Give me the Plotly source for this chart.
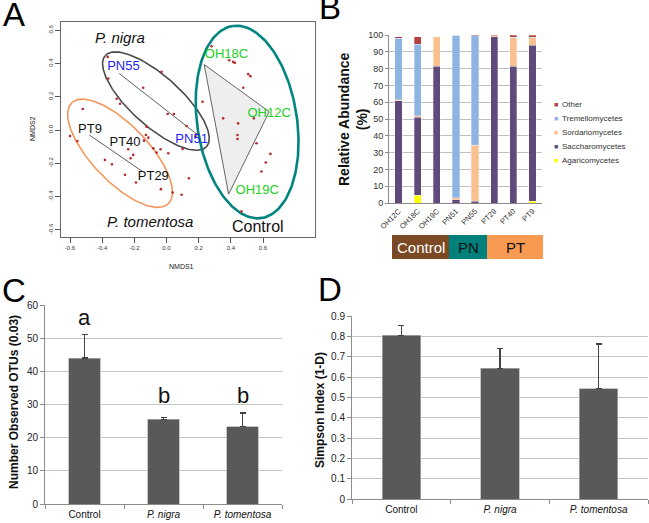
import numpy as np
import plotly.graph_objects as go

W, H = 649, 523
FONT = "Liberation Sans, Arial, sans-serif"


def px(x):
    return x / W


def py(y):
    return 1 - y / H


# ---------------- Panel A data (NMDS) ----------------
nmds_x = [-0.600, -0.554, -0.521, -0.383, -0.339, -0.366, -0.362, -0.310, -0.289, -0.258,
          -0.238, -0.223, -0.207, -0.190, -0.145, -0.140, -0.124, -0.128, -0.113, -0.082,
          -0.062, -0.037, -0.031, -0.035, 0.007, 0.011, 0.038, 0.046, 0.094, 0.100,
          0.125, 0.139, 0.187, 0.224, 0.280, 0.352, 0.390, 0.414, 0.425, 0.441,
          0.445, 0.441, 0.477, 0.508, 0.522, 0.543, 0.559, 0.590, 0.617, 0.646,
          0.466, 0.180]
nmds_y = [-0.036, -0.066, 0.126, -0.180, -0.206, 0.440, 0.310, 0.188, 0.158, -0.270,
          -0.116, -0.170, -0.150, -0.316, 0.254, -0.064, 0.020, -0.030, -0.046, -0.110,
          -0.136, -0.116, 0.350, -0.356, 0.096, -0.140, -0.376, 0.096, -0.390, -0.114,
          0.024, -0.290, -0.026, 0.170, 0.504, 0.070, 0.420, 0.410, 0.404, -0.030,
          0.040, -0.054, 0.254, 0.336, 0.324, 0.070, -0.080, -0.250, -0.196, -0.144,
          -0.490, -0.040]

site_labels = ["PN55", "PN51", "PT9", "PT40", "PT29", "OH18C", "OH12C", "OH19C"]
site_x = [-0.268, 0.156, -0.476, -0.258, -0.082, 0.373, 0.638, 0.564]
site_y = [0.380, -0.056, 0.004, -0.074, -0.284, 0.454, 0.100, -0.366]
site_colors = ["#1f1fff", "#1f1fff", "#111111", "#111111", "#111111",
               "#22d022", "#22d022", "#22d022"]

group_labels = ["<i>P. nigra</i>", "<i>P. tomentosa</i>", "Control"]
group_x = [-0.29, -0.103, 0.570]
group_y = [0.555, -0.550, -0.582]
group_sizes = [15, 15, 16]

# hull segments (sample centroids)
pn_hull_x = [-0.294, 0.187]
pn_hull_y = [0.340, -0.024]
pt_hull_x = [-0.480, -0.149]
pt_hull_y = [-0.030, -0.250]
oh_hull_x = [0.234, 0.638, 0.386, 0.234]
oh_hull_y = [0.394, 0.110, -0.386, 0.394]

# ellipses: centre, semi-axis vector 1, semi-axis vector 2 (data units)
ell_cx = [-0.066, -0.289, 0.501]
ell_cy = [0.174, -0.140, 0.048]
ell_ux = [0.315, 0.300, -0.089]
ell_uy = [-0.274, -0.304, 0.578]
ell_vx = [0.104, 0.127, 0.307]
ell_vy = [0.112, 0.117, 0.044]
ell_colors = ["#4a4a4a", "#f5955a", "#00857f"]
ell_widths = [1.6, 1.6, 2.6]

# ---------------- Panel B data (relative abundance) ----------------
samples = ["OH12C", "OH18C", "OH19C", "PN51", "PN55", "PT29", "PT40", "PT9"]
classes = ["Agaricomycetes", "Saccharomycetes", "Sordariomycetes", "Tremellomycetes", "Other"]
agarico = [0.0, 4.5, 0.0, 0.0, 0.0, 0.0, 0.0, 1.0]
saccharo = [61.0, 46.5, 81.5, 2.0, 1.0, 99.0, 81.5, 93.0]
sordario = [0.5, 1.0, 17.5, 1.0, 33.5, 0.5, 17.0, 4.5]
tremello = [36.5, 42.5, 0.0, 97.0, 65.0, 0.0, 0.3, 0.3]
other = [1.0, 4.5, 0.0, 0.0, 0.5, 0.5, 1.2, 1.2]
class_values = [agarico, saccharo, sordario, tremello, other]
class_colors = ["#ffff00", "#604a7b", "#fac090", "#8db4e2", "#b3403f"]
b_ticks = [0, 10, 20, 30, 40, 50, 60, 70, 80, 90, 100]

treat_names = ["Control", "PN", "PT"]
treat_colors = ["#7b4a24", "#00807a", "#f89a52"]
treat_text_colors = ["#ffffff", "#111111", "#111111"]

# ---------------- Panel C / D data ----------------
groups = ["Control", "P. nigra", "P. tomentosa"]
group_ticktext = ["Control", "<i>P. nigra</i>", "<i>P. tomentosa</i>"]
otus = [44.0, 25.5, 23.3]
otus_err = [7.2, 0.5, 4.1]
otus_letters = ["a", "b", "b"]
otus_letter_y = [53.2, 29.5, 29.5]
simpson = [0.805, 0.642, 0.542]
simpson_err = [0.050, 0.098, 0.220]

fig = go.Figure()

# ---- Panel A traces ----
t = np.linspace(0, 2 * np.pi, 200)
for i in range(3):
    ex = ell_cx[i] + ell_ux[i] * np.cos(t) + ell_vx[i] * np.sin(t)
    ey = ell_cy[i] + ell_uy[i] * np.cos(t) + ell_vy[i] * np.sin(t)
    fig.add_trace(go.Scatter(x=ex, y=ey, mode="lines", line=dict(color=ell_colors[i], width=ell_widths[i]),
                             xaxis="x", yaxis="y", showlegend=False, hoverinfo="skip"))

fig.add_trace(go.Scatter(x=oh_hull_x, y=oh_hull_y, mode="lines", fill="toself", fillcolor="#eeeeee",
                         line=dict(color="#555555", width=0.9), xaxis="x", yaxis="y", showlegend=False))
fig.add_trace(go.Scatter(x=pn_hull_x, y=pn_hull_y, mode="lines", line=dict(color="#333333", width=0.8),
                         xaxis="x", yaxis="y", showlegend=False))
fig.add_trace(go.Scatter(x=pt_hull_x, y=pt_hull_y, mode="lines", line=dict(color="#333333", width=0.8),
                         xaxis="x", yaxis="y", showlegend=False))
fig.add_trace(go.Scatter(x=nmds_x, y=nmds_y, mode="markers", marker=dict(color="#b52a2a", size=2.6),
                         xaxis="x", yaxis="y", showlegend=False))
fig.add_trace(go.Scatter(x=site_x, y=site_y, mode="text", text=site_labels,
                         textfont=dict(color=site_colors, size=13, family=FONT),
                         xaxis="x", yaxis="y", showlegend=False))

annotations = []
for lab, gx, gy, gs in zip(group_labels, group_x, group_y, group_sizes):
    annotations.append(dict(x=gx, y=gy, xref="x", yref="y", text=lab, showarrow=False,
                            xanchor="center", yanchor="middle",
                            font=dict(size=gs, color="#111111", family=FONT)))

# ---- Panel B traces ----
for name, vals, col in zip(classes, class_values, class_colors):
    fig.add_trace(go.Bar(x=samples, y=vals, name=name, width=0.38, marker=dict(color=col, line=dict(color="#ffffff", width=0.3)),
                         xaxis="x2", yaxis="y2", showlegend=False))

# manual legend (top item = last class)
leg_x_sq = 556
leg_x_tx = 560
leg_y0 = 104.3
for k, (name, col) in enumerate(zip(classes[::-1], class_colors[::-1])):
    yy = leg_y0 + k * 14.1
    annotations.append(dict(x=px(leg_x_sq), y=py(yy), xref="paper", yref="paper", text="■", showarrow=False,
                            xanchor="center", yanchor="middle", font=dict(size=7, color=col, family=FONT)))
    annotations.append(dict(x=px(leg_x_tx), y=py(yy), xref="paper", yref="paper", text=name, showarrow=False,
                            xanchor="left", yanchor="middle", font=dict(size=8, color="#333333", family=FONT)))

# treatment boxes under panel B
box_edges = [392, 449, 487, 543]
shapes = []
for k, (nm, col, tc) in enumerate(zip(treat_names, treat_colors, treat_text_colors)):
    shapes.append(dict(type="rect", xref="paper", yref="paper", x0=px(box_edges[k]), x1=px(box_edges[k + 1]),
                       y0=py(259), y1=py(235), fillcolor=col, line=dict(width=0), layer="above"))
    annotations.append(dict(x=px((box_edges[k] + box_edges[k + 1]) / 2), y=py(247.5), xref="paper", yref="paper",
                            text=nm, showarrow=False, xanchor="center", yanchor="middle",
                            font=dict(size=15, color=tc, family=FONT)))

# ---- Panel C ----
fig.add_trace(go.Bar(x=groups, y=otus, width=0.4,
                     marker=dict(color="#595959", line=dict(color="#b0b0b0", width=0.7)),
                     error_y=dict(type="data", array=otus_err, arrayminus=[0] * 3, symmetric=False,
                                  color="#444444", thickness=1.3, width=3),
                     xaxis="x3", yaxis="y3", showlegend=False))
for g, lt, ly in zip(groups, otus_letters, otus_letter_y):
    annotations.append(dict(x=g, y=ly, xref="x3", yref="y3", text=lt, showarrow=False, yanchor="bottom",
                            xanchor="center", yshift=-4, font=dict(size=22, color="#111111", family=FONT)))

# ---- Panel D ----
fig.add_trace(go.Bar(x=groups, y=simpson, width=0.39,
                     marker=dict(color="#595959", line=dict(color="#b0b0b0", width=0.7)),
                     error_y=dict(type="data", array=simpson_err, arrayminus=[0] * 3, symmetric=False,
                                  color="#444444", thickness=1.3, width=3),
                     xaxis="x4", yaxis="y4", showlegend=False))

# axis titles
title_common = dict(xref="paper", yref="paper", showarrow=False, xanchor="center", yanchor="middle")
annotations += [
    dict(x=px(181), y=py(266), text="NMDS1", font=dict(size=7, color="#222222", family=FONT), **title_common),
    dict(x=px(32), y=py(129), text="NMDS2", textangle=-90, font=dict(size=7, color="#222222", family=FONT),
         **title_common),
    dict(x=px(353), y=py(119), text="<b>Relative Abundance<br>(%)</b>", textangle=-90,
         font=dict(size=14, color="#111111", family=FONT), **title_common),
    dict(x=px(14), y=py(402), text="<b>Number Observed OTUs (0.03)</b>", textangle=-90,
         font=dict(size=12, color="#111111", family=FONT), **title_common),
    dict(x=px(320), y=py(410), text="<b>Simpson Index (1-D)</b>", textangle=-90,
         font=dict(size=12, color="#111111", family=FONT), **title_common),
]
# panel letters
for letter, lx, ly in [("A", 14, 15), ("B", 330, 8), ("C", 14, 290), ("D", 330, 289)]:
    annotations.append(dict(x=px(lx), y=py(ly), xref="paper", yref="paper", text=letter, showarrow=False,
                            xanchor="center", yanchor="middle", font=dict(size=33, color="#000000", family=FONT)))

tickfont_small = dict(size=6, color="#333333", family=FONT)
fig.update_layout(
    width=W, height=H, margin=dict(l=0, r=0, t=0, b=0), paper_bgcolor="white", plot_bgcolor="white",
    barmode="stack", font=dict(family=FONT), showlegend=False,
    annotations=annotations, shapes=shapes,
    xaxis=dict(domain=[px(61), px(315)], range=[-0.656, 0.923], tickvals=[-0.6, -0.4, -0.2, 0.0, 0.2, 0.4, 0.6],
               ticktext=["-0.6", "-0.4", "-0.2", "0.0", "0.2", "0.4", "0.6"],
               ticks="outside", ticklen=5, tickcolor="#555555", showline=True, mirror=True, linecolor="#666666",
               linewidth=1, showgrid=False, zeroline=False, tickfont=tickfont_small, anchor="y"),
    yaxis=dict(domain=[py(237), py(22)], range=[-0.644, 0.65], tickvals=[-0.6, -0.4, -0.2, 0.0, 0.2, 0.4, 0.6],
               ticktext=["-0.6", "-0.4", "-0.2", "0.0", "0.2", "0.4", "0.6"], tickangle=-90,
               ticks="outside", ticklen=5, tickcolor="#555555", showline=True, mirror=True, linecolor="#666666",
               linewidth=1, showgrid=False, zeroline=False, tickfont=tickfont_small, anchor="x"),
    xaxis2=dict(domain=[px(389), px(542)], range=[-0.5, 7.5], tickangle=-45, tickfont=dict(size=7.5, color="#333333", family=FONT),
                showline=True, linecolor="#8c8c8c", showgrid=False, zeroline=False, anchor="y2", ticks=""),
    yaxis2=dict(domain=[py(203), py(35)], range=[0, 100], tickvals=b_ticks, ticks="outside", ticklen=3,
                tickcolor="#8c8c8c", showline=True, linecolor="#8c8c8c", gridcolor="#bfbfbf", gridwidth=0.8,
                zeroline=False, tickfont=dict(size=9, color="#333333", family=FONT), anchor="x2"),
    xaxis3=dict(domain=[px(45), px(282)], range=[-0.5, 2.5], tickvals=groups, ticktext=group_ticktext,
                tickfont=dict(size=10, color="#111111", family=FONT), ticks="outside", tickson="boundaries",
                ticklen=4, tickcolor="#8c8c8c", showline=True, linecolor="#8c8c8c", showgrid=False,
                zeroline=False, anchor="y3", ticklabelstandoff=1),
    yaxis3=dict(domain=[py(504), py(305)], range=[0, 60], dtick=10, ticks="outside", ticklen=4,
                tickcolor="#8c8c8c", showline=True, linecolor="#8c8c8c", gridcolor="#c4c4c4",
                zeroline=False, tickfont=dict(size=10, color="#222222", family=FONT), anchor="x3"),
    xaxis4=dict(domain=[px(352), px(648)], range=[-0.5, 2.5], tickvals=groups, ticktext=group_ticktext,
                tickfont=dict(size=10, color="#111111", family=FONT), ticks="outside", tickson="boundaries",
                ticklen=4, tickcolor="#8c8c8c", showline=True, linecolor="#8c8c8c", showgrid=False,
                zeroline=False, anchor="y4", ticklabelstandoff=1),
    yaxis4=dict(domain=[py(499), py(316)], range=[0, 0.9], dtick=0.1, ticks="outside", ticklen=4,
                tickcolor="#8c8c8c", showline=True, linecolor="#8c8c8c", gridcolor="#c4c4c4",
                zeroline=False, tickfont=dict(size=10, color="#222222", family=FONT), anchor="x4",
                tickformat=".1~f"),
)
for ax in ["xaxis", "yaxis", "xaxis2", "yaxis2", "xaxis3", "yaxis3", "xaxis4", "yaxis4"]:
    fig.layout[ax].automargin = False

fig.write_html("out.html", config={"displayModeBar": False},
               post_script="document.body.style.margin='0px';document.body.style.overflow='hidden';")
